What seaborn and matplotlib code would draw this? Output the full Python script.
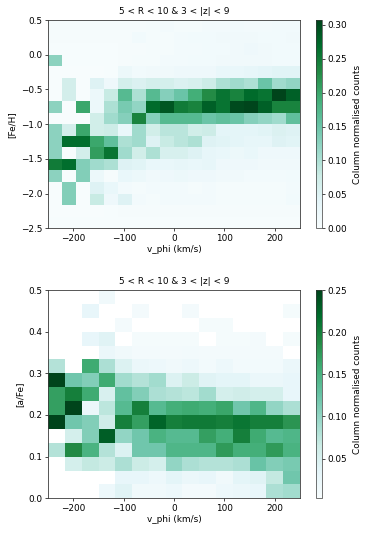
import numpy as np
import pandas as pd
import matplotlib
matplotlib.use("Agg")
import matplotlib.pyplot as plt
import seaborn as sns

# ---------------- data ----------------
# bin edges
vphi_edges_top = np.linspace(-250, 250, 19)
feh_edges = np.linspace(-2.5, 0.5, 19)
vphi_edges_bot = np.linspace(-250, 250, 16)
afe_edges = np.linspace(0.0, 0.5, 16)

# column-normalised counts, rows listed from highest [Fe/H] (0.33..0.5) downwards
feh_rows = [
    [0.005, 0.005, 0.005, 0.005, 0.005, 0.005, 0.005, 0.008, 0.010, 0.008, 0.008, 0.010, 0.010, 0.012, 0.010, 0.010, 0.012, 0.012],
    [0.005, 0.005, 0.005, 0.005, 0.005, 0.005, 0.012, 0.008, 0.008, 0.010, 0.012, 0.012, 0.015, 0.015, 0.015, 0.012, 0.012, 0.015],
    [0.003, 0.003, 0.003, 0.003, 0.003, 0.005, 0.005, 0.008, 0.008, 0.010, 0.010, 0.012, 0.012, 0.015, 0.020, 0.015, 0.012, 0.012],
    [0.125, 0.003, 0.003, 0.003, 0.003, 0.005, 0.008, 0.008, 0.010, 0.010, 0.012, 0.012, 0.015, 0.015, 0.015, 0.015, 0.012, 0.012],
    [0.000, 0.000, 0.000, 0.000, 0.003, 0.025, 0.012, 0.015, 0.015, 0.020, 0.020, 0.020, 0.030, 0.030, 0.035, 0.040, 0.045, 0.045],
    [0.000, 0.067, 0.000, 0.050, 0.020, 0.065, 0.055, 0.065, 0.065, 0.055, 0.060, 0.075, 0.100, 0.110, 0.100, 0.150, 0.110, 0.120],
    [0.000, 0.067, 0.000, 0.025, 0.080, 0.170, 0.100, 0.170, 0.130, 0.150, 0.190, 0.230, 0.260, 0.240, 0.270, 0.260, 0.307, 0.280],
    [0.125, 0.000, 0.200, 0.025, 0.100, 0.140, 0.120, 0.270, 0.290, 0.250, 0.240, 0.280, 0.260, 0.300, 0.305, 0.280, 0.240, 0.240],
    [0.000, 0.000, 0.000, 0.070, 0.110, 0.130, 0.240, 0.130, 0.170, 0.170, 0.170, 0.150, 0.160, 0.150, 0.130, 0.120, 0.110, 0.160],
    [0.125, 0.067, 0.200, 0.070, 0.075, 0.030, 0.110, 0.070, 0.090, 0.090, 0.070, 0.075, 0.040, 0.040, 0.040, 0.045, 0.055, 0.050],
    [0.125, 0.267, 0.267, 0.200, 0.160, 0.100, 0.110, 0.050, 0.080, 0.090, 0.100, 0.050, 0.045, 0.040, 0.035, 0.035, 0.050, 0.045],
    [0.125, 0.000, 0.067, 0.210, 0.260, 0.110, 0.070, 0.100, 0.060, 0.060, 0.050, 0.035, 0.030, 0.025, 0.030, 0.020, 0.020, 0.020],
    [0.250, 0.267, 0.133, 0.110, 0.100, 0.050, 0.045, 0.030, 0.030, 0.035, 0.030, 0.035, 0.020, 0.020, 0.020, 0.015, 0.015, 0.015],
    [0.125, 0.000, 0.133, 0.025, 0.005, 0.030, 0.025, 0.015, 0.020, 0.025, 0.020, 0.020, 0.015, 0.015, 0.010, 0.010, 0.010, 0.012],
    [0.000, 0.133, 0.000, 0.050, 0.030, 0.010, 0.008, 0.010, 0.010, 0.010, 0.008, 0.010, 0.008, 0.008, 0.008, 0.008, 0.008, 0.010],
    [0.000, 0.133, 0.000, 0.080, 0.020, 0.050, 0.010, 0.008, 0.010, 0.010, 0.010, 0.010, 0.008, 0.008, 0.008, 0.008, 0.008, 0.012],
    [0.000, 0.000, 0.000, 0.000, 0.003, 0.005, 0.005, 0.005, 0.005, 0.005, 0.005, 0.005, 0.005, 0.005, 0.005, 0.005, 0.005, 0.005],
    [0.003, 0.003, 0.003, 0.003, 0.003, 0.003, 0.003, 0.003, 0.003, 0.003, 0.003, 0.003, 0.003, 0.003, 0.003, 0.003, 0.003, 0.003],
]

# rows listed from highest [a/Fe] (0.467..0.5) downwards; None = empty cell
N = None
afe_rows = [
    [N, N, N, 0.015, N, N, N, N, N, N, N, N, N, N, N],
    [N, N, 0.030, N, N, 0.010, N, N, 0.010, N, N, N, N, N, 0.008],
    [N, N, N, N, 0.010, N, N, N, N, 0.008, 0.008, N, N, N, N],
    [N, N, 0.030, 0.040, N, 0.008, 0.008, 0.008, 0.008, N, 0.008, 0.008, 0.010, N, 0.008],
    [N, N, N, 0.025, 0.015, 0.010, 0.010, 0.010, 0.012, 0.010, 0.010, 0.010, 0.010, 0.010, N],
    [0.080, N, 0.160, 0.085, 0.045, 0.025, 0.020, 0.015, 0.020, 0.012, 0.020, 0.012, 0.012, 0.012, 0.025],
    [0.250, 0.120, 0.110, 0.160, 0.090, 0.080, 0.090, 0.045, 0.065, 0.040, 0.035, 0.035, 0.025, 0.025, 0.030],
    [0.170, 0.200, 0.160, 0.050, 0.130, 0.110, 0.085, 0.080, 0.075, 0.090, 0.055, 0.060, 0.055, 0.055, 0.030],
    [0.170, 0.250, 0.025, 0.075, 0.140, 0.200, 0.140, 0.155, 0.160, 0.155, 0.165, 0.120, 0.145, 0.100, 0.085],
    [0.250, 0.120, 0.110, 0.060, 0.200, 0.170, 0.225, 0.200, 0.205, 0.205, 0.200, 0.210, 0.200, 0.200, 0.180],
    [N, 0.055, 0.110, 0.230, 0.100, 0.120, 0.150, 0.140, 0.140, 0.170, 0.155, 0.200, 0.160, 0.140, 0.145],
    [0.080, 0.190, 0.150, 0.080, 0.045, 0.120, 0.120, 0.145, 0.145, 0.145, 0.175, 0.155, 0.155, 0.175, 0.150],
    [N, 0.055, 0.070, 0.065, 0.085, 0.065, 0.055, 0.100, 0.085, 0.080, 0.080, 0.085, 0.125, 0.110, 0.115],
    [N, N, N, N, 0.030, 0.030, 0.020, 0.035, 0.025, 0.030, 0.015, 0.035, 0.040, 0.070, 0.120],
    [N, N, N, 0.020, 0.040, 0.015, 0.015, 0.020, 0.010, 0.010, 0.020, 0.025, 0.030, 0.085, 0.090],
]

title = "5 < R < 10 & 3 < |z| < 9"
xlabel = "v_phi (km/s)"
cbar_label = "Column normalised counts"


def to_long(rows, xedges, yedges):
    xc = (xedges[:-1] + xedges[1:]) / 2
    yc = ((yedges[:-1] + yedges[1:]) / 2)[::-1]
    recs = []
    for i, row in enumerate(rows):
        for j, v in enumerate(row):
            recs.append((xc[j], yc[i], 0.0 if v is None else v))
    return pd.DataFrame(recs, columns=["vphi", "val", "w"])


df_top = to_long(feh_rows, vphi_edges_top, feh_edges)
df_bot = to_long(afe_rows, vphi_edges_bot, afe_edges)

# ---------------- style ----------------
plt.rcParams.update({
    "font.family": ["DejaVu Sans"],
    "font.size": 6.4,
    "axes.linewidth": 0.6,
    "axes.edgecolor": "#3a3a3a",
    "xtick.major.size": 2.3,
    "ytick.major.size": 2.3,
    "xtick.major.width": 0.5,
    "ytick.major.width": 0.5,
    "xtick.major.pad": 2.0,
    "ytick.major.pad": 2.0,
    "xtick.labelsize": 6.4,
    "ytick.labelsize": 6.4,
})

fig = plt.figure(figsize=(3.74, 5.34), dpi=100)

ax1 = fig.add_axes([0.129, 0.5725, 0.673, 0.390])
cax1 = fig.add_axes([0.845, 0.5725, 0.0168, 0.390])
ax2 = fig.add_axes([0.129, 0.0669, 0.673, 0.390])
cax2 = fig.add_axes([0.845, 0.0669, 0.0168, 0.390])

sns.histplot(data=df_top, x="vphi", y="val", weights="w",
             bins=[vphi_edges_top, feh_edges], cmap="BuGn", thresh=None,
             vmin=0.0, vmax=0.307, cbar=True, cbar_ax=cax1,
             cbar_kws={"label": cbar_label}, ax=ax1)
sns.histplot(data=df_bot, x="vphi", y="val", weights="w",
             bins=[vphi_edges_bot, afe_edges], cmap="BuGn", thresh=0,
             vmin=0.003, vmax=0.25, cbar=True, cbar_ax=cax2,
             cbar_kws={"label": cbar_label}, ax=ax2)

ax1.set_xlim(-250, 250)
ax1.set_ylim(-2.5, 0.5)
ax1.set_xticks([-200, -100, 0, 100, 200])
ax1.set_yticks(np.arange(-2.5, 0.51, 0.5))
ax1.set_ylabel("[Fe/H]", labelpad=3)

ax2.set_xlim(-250, 250)
ax2.set_ylim(0.0, 0.5)
ax2.set_xticks([-200, -100, 0, 100, 200])
ax2.set_yticks(np.arange(0.0, 0.51, 0.1))
ax2.set_ylabel("[a/Fe]", labelpad=3)

for ax in (ax1, ax2):
    ax.set_title(title, fontsize=6.4, pad=4)
    ax.set_xlabel(xlabel, labelpad=1.5)
    ax.grid(False)

cax1.set_yticks(np.arange(0, 0.31, 0.05))
cax2.set_yticks([0.05, 0.10, 0.15, 0.20, 0.25])
for cax in (cax1, cax2):
    cax.yaxis.set_major_formatter(matplotlib.ticker.FormatStrFormatter("%.2f"))
    cax.yaxis.label.set_size(6.4)
    cax.tick_params(length=2.3, width=0.5, pad=1.5)
    for s in cax.spines.values():
        s.set_linewidth(0.5)
    cax.outline if False else None

fig.savefig("out.png", dpi=100)
